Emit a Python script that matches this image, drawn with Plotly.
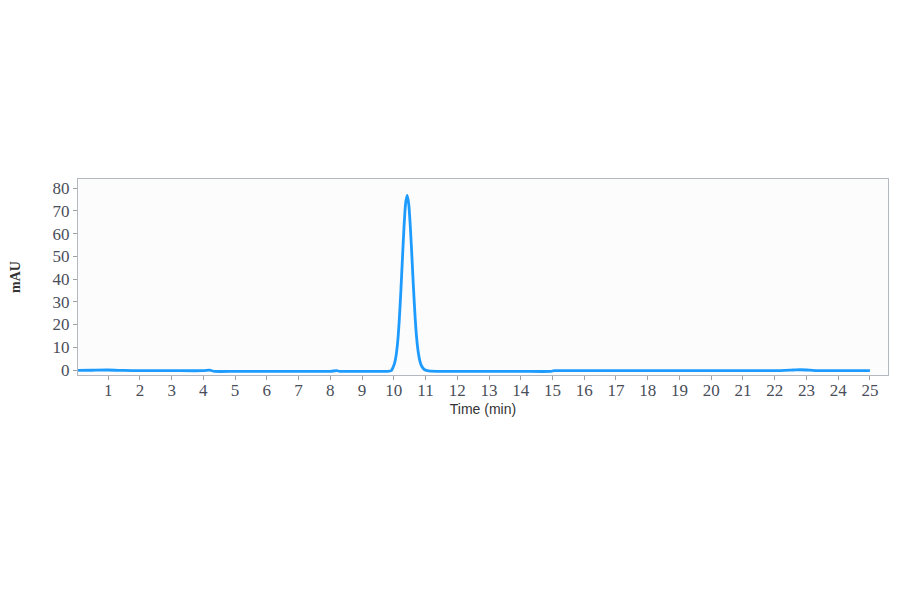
import plotly.graph_objects as go

# Chromatogram trace (time in min, absorbance in mAU)
time_min = [0.05, 0.5, 1.0, 1.5, 2.0, 3.0, 4.0, 4.2, 4.35, 5.0, 6.0, 7.0, 8.0, 8.2, 8.3, 9.0, 9.8,
            9.92, 9.97, 10.02, 10.07, 10.12, 10.17, 10.22, 10.27, 10.32, 10.37, 10.42, 10.47,
            10.52, 10.57, 10.62, 10.67, 10.72, 10.77, 10.82, 10.87, 10.92, 10.97, 11.05, 11.15,
            12.0, 13.0, 14.0, 14.95, 15.05, 16.0, 17.0, 18.0, 19.0, 20.0, 21.0, 22.0,
            22.6, 22.8, 23.0, 23.2, 23.4, 24.0, 25.0]
absorbance = [-0.2, -0.1, 0.0, -0.2, -0.3, -0.3, -0.3, -0.1, -0.6, -0.6, -0.6, -0.6, -0.6, -0.3, -0.6, -0.6, -0.6,
              -0.3, 1.0, 2.8, 6.2, 12.0, 21.5, 34.0, 48.5, 62.5, 73.0, 76.8, 73.0,
              63.0, 50.0, 36.0, 23.5, 14.0, 7.8, 4.0, 1.9, 0.8, 0.1, -0.3, -0.5,
              -0.6, -0.6, -0.6, -0.6, -0.3, -0.3, -0.3, -0.3, -0.3, -0.3, -0.3, -0.3,
              0.0, 0.1, 0.0, -0.2, -0.3, -0.3, -0.3]

x_ticks = list(range(1, 26))
y_ticks = [0, 10, 20, 30, 40, 50, 60, 70, 80]

fig = go.Figure()
fig.add_trace(go.Scatter(
    x=time_min, y=absorbance, mode="lines",
    line=dict(color="#1e9bff", width=2.8, shape="spline", smoothing=0.6),
    showlegend=False,
))

tick_font = dict(family="Liberation Serif", size=17, color="#4a4e5a")

fig.update_layout(
    width=900, height=594,
    paper_bgcolor="white",
    plot_bgcolor="#fcfcfc",
    margin=dict(l=70, r=20, t=171, b=227, autoexpand=False),
    xaxis=dict(
        range=[0.05, 25.57],
        tickvals=x_ticks, ticktext=[str(v) for v in x_ticks],
        ticks="outside", ticklen=4, tickcolor="#a0a0a0",
        ticklabelstandoff=-4,
        showline=True, linecolor="#b4b8c0", linewidth=1, mirror=True,
        showgrid=False, zeroline=False,
        tickfont=tick_font,
        title=dict(text="Time (min)", font=dict(family="Liberation Sans", size=14, color="#333333"), standoff=4),
    ),
    yaxis=dict(
        range=[-2.2, 84],
        tickvals=y_ticks,
        ticks="outside", ticklen=4, tickcolor="#a0a0a0",
        showline=True, linecolor="#b4b8c0", linewidth=1, mirror=True,
        showgrid=False, zeroline=False,
        tickfont=tick_font,
        title=dict(text="<b>mAU</b>", font=dict(family="Liberation Serif", size=14, color="#333333"), standoff=31),
    ),
)

fig.write_html("out.html")
